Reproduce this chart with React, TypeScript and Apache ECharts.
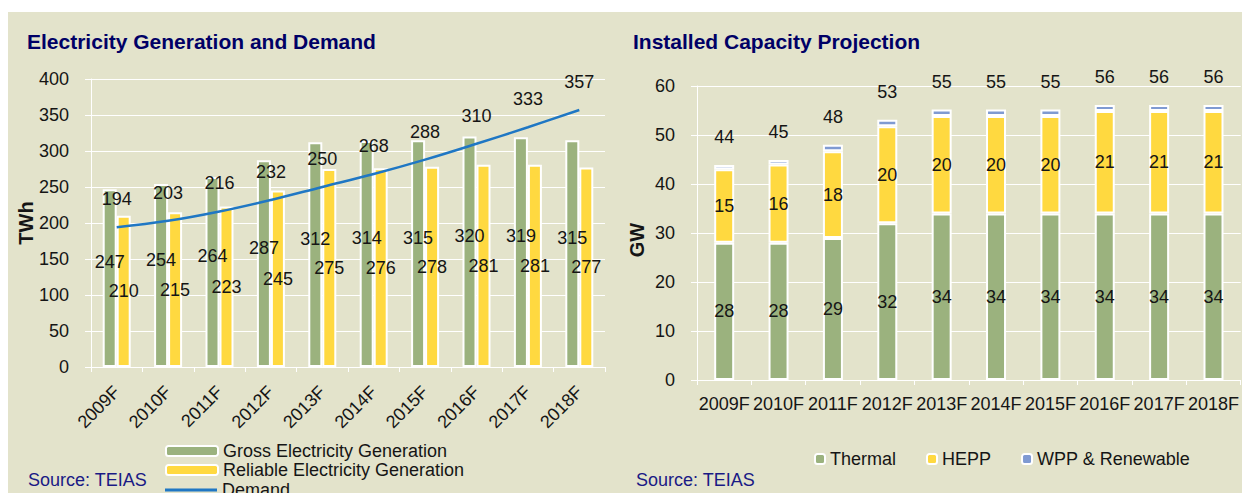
import { useEffect, useRef } from "react";
import * as echarts from "echarts";

const years = ["2009F", "2010F", "2011F", "2012F", "2013F", "2014F", "2015F", "2016F", "2017F", "2018F"];
const grossGeneration = [247, 254, 264, 287, 312, 314, 315, 320, 319, 315];
const reliableGeneration = [210, 215, 223, 245, 275, 276, 278, 281, 281, 277];
const demand = [194, 203, 216, 232, 250, 268, 288, 310, 333, 357];

const thermal = [28, 28, 29, 32, 34, 34, 34, 34, 34, 34];
const hepp = [15, 16, 17.7, 19.8, 19.9, 19.9, 19.9, 20.9, 20.9, 20.9];
const wppRenewable = [0.9, 0.9, 1.3, 1.3, 1.3, 1.3, 1.3, 1.2, 1.2, 1.2];

const FONT = "'Liberation Sans', Arial, sans-serif";
const BG = "#E3E3CB";
const GREEN = "#9BB27E";
const YELLOW = "#FFD940";
const BLUE_LINE = "#1F77C4";
const WPP_BLUE = "#7F9AD2";
const TITLE = "#000066";
const SOURCE = "#1A1A85";
const TXT = "#151515";

export default function App() {
  const ref = useRef<HTMLDivElement>(null);
  useEffect(() => {
    const chart = echarts.init(ref.current!, null, { renderer: "svg" });
    const totals = thermal.map((t, i) => Math.round(t + hepp[i] + wppRenewable[i]));
    const barBorder = { borderColor: "#FFFFFF", borderWidth: 2 };
    const numLabel = { color: TXT, fontSize: 18, fontFamily: FONT };
    const legendText = { color: TXT, fontSize: 18, fontFamily: FONT };
    const yAxisCommon = {
      type: "value" as const,
      axisLine: { show: true, lineStyle: { color: "#FFFFFF", width: 1 } },
      axisTick: { show: true, length: 6, lineStyle: { color: "#FFFFFF" } },
      splitLine: { show: true, lineStyle: { color: "#FFFFFF", width: 1 } },
      axisLabel: { color: TXT, fontSize: 18, fontFamily: FONT, margin: 22 },
    };
    chart.setOption({
      animation: false,
      textStyle: { fontFamily: FONT },
      graphic: [
        { type: "rect", z: -100, silent: true, shape: { x: 8, y: 12, width: 1234, height: 481 }, style: { fill: BG } },
        { type: "text", x: 27, y: 41, style: { text: "Electricity Generation and Demand", fill: TITLE, font: `bold 21px ${FONT}`, verticalAlign: "middle" } },
        { type: "text", x: 633, y: 41, style: { text: "Installed Capacity Projection", fill: TITLE, font: `bold 21px ${FONT}`, verticalAlign: "middle" } },
        { type: "text", x: 26, y: 223, rotation: Math.PI / 2, style: { text: "TWh", fill: TXT, font: `bold 20px ${FONT}`, align: "center", verticalAlign: "middle" } },
        { type: "text", x: 637, y: 240, rotation: Math.PI / 2, style: { text: "GW", fill: TXT, font: `bold 20px ${FONT}`, align: "center", verticalAlign: "middle" } },
        { type: "text", x: 28, y: 480, style: { text: "Source: TEIAS", fill: SOURCE, font: `18px ${FONT}`, verticalAlign: "middle" } },
        { type: "text", x: 636, y: 480, style: { text: "Source: TEIAS", fill: SOURCE, font: `18px ${FONT}`, verticalAlign: "middle" } },
      ],
      legend: [
        {
          orient: "vertical",
          left: 160,
          top: 437,
          itemWidth: 52,
          itemHeight: 10,
          itemGap: 1,
          textStyle: legendText,
          data: ["Gross Electricity Generation", "Reliable Electricity Generation"],
        },
        {
          orient: "vertical",
          left: 160,
          top: 476,
          itemWidth: 52,
          itemHeight: 10,
          textStyle: legendText,
          data: [
            {
              name: "Demand",
              icon: "path://M0,0 L52,0 L52,3 L0,3 Z",
              itemStyle: { color: BLUE_LINE, borderWidth: 0 },
            },
          ],
        },
        {
          orient: "horizontal",
          left: 809,
          top: 445,
          itemWidth: 10,
          itemHeight: 10,
          itemGap: 30,
          textStyle: legendText,
          data: ["Thermal", "HEPP", "WPP & Renewable"],
        },
      ],
      grid: [
        { left: 91, right: 637, top: 79, bottom: 126 },
        { left: 697, right: 1, top: 86, bottom: 113 },
      ],
      xAxis: [
        {
          type: "category",
          gridIndex: 0,
          data: years,
          axisLine: { lineStyle: { color: "#FFFFFF" } },
          axisTick: { show: true, length: 5, lineStyle: { color: "#FFFFFF" } },
          axisLabel: { color: TXT, fontSize: 18, fontFamily: FONT, rotate: 45, margin: 22, interval: 0 },
        },
        {
          type: "category",
          gridIndex: 1,
          data: years,
          axisLine: { lineStyle: { color: "#FFFFFF" } },
          axisTick: { show: true, length: 5, lineStyle: { color: "#FFFFFF" } },
          axisLabel: { color: TXT, fontSize: 18, fontFamily: FONT, margin: 15, interval: 0 },
        },
      ],
      yAxis: [
        { ...yAxisCommon, gridIndex: 0, min: 0, max: 400, interval: 50 },
        { ...yAxisCommon, gridIndex: 1, min: 0, max: 60, interval: 10 },
      ],
      series: [
        {
          name: "Gross Electricity Generation",
          type: "bar",
          xAxisIndex: 0,
          yAxisIndex: 0,
          data: grossGeneration,
          barWidth: 14,
          barGap: "0%",
          itemStyle: { color: GREEN, ...barBorder },
          label: { show: true, position: "inside", offset: [0, -16], ...numLabel },
        },
        {
          name: "Reliable Electricity Generation",
          type: "bar",
          xAxisIndex: 0,
          yAxisIndex: 0,
          data: reliableGeneration,
          barWidth: 14,
          barGap: "0%",
          itemStyle: { color: YELLOW, ...barBorder },
          label: { show: true, position: "inside", ...numLabel },
        },
        {
          name: "Demand",
          type: "line",
          xAxisIndex: 0,
          yAxisIndex: 0,
          data: demand,
          smooth: 0.4,
          symbol: "none",
          showSymbol: false,
          lineStyle: { color: BLUE_LINE, width: 2.5 },
          itemStyle: { color: BLUE_LINE },
          z: 5,
        },
        {
          name: "Demand labels",
          type: "scatter",
          xAxisIndex: 0,
          yAxisIndex: 0,
          data: demand,
          symbolSize: 0,
          silent: true,
          itemStyle: { color: "rgba(0,0,0,0)", opacity: 1 },
          label: { show: true, position: "top", distance: 19, opacity: 1, ...numLabel },
          z: 6,
        },
        {
          name: "Thermal",
          type: "bar",
          stack: "cap",
          xAxisIndex: 1,
          yAxisIndex: 1,
          data: thermal,
          barWidth: 20,
          itemStyle: { color: GREEN, ...barBorder },
          label: { show: true, position: "inside", ...numLabel },
        },
        {
          name: "HEPP",
          type: "bar",
          stack: "cap",
          xAxisIndex: 1,
          yAxisIndex: 1,
          data: hepp,
          barWidth: 20,
          itemStyle: { color: YELLOW, ...barBorder },
          label: { show: true, position: "inside", formatter: (p: any) => String(Math.round(p.value)), ...numLabel },
        },
        {
          name: "WPP & Renewable",
          type: "bar",
          stack: "cap",
          xAxisIndex: 1,
          yAxisIndex: 1,
          data: wppRenewable,
          barWidth: 20,
          itemStyle: { color: WPP_BLUE, ...barBorder },
          label: { show: true, position: "top", distance: 19, formatter: (p: any) => String(totals[p.dataIndex]), ...numLabel },
        },
      ],
    });
    return () => chart.dispose();
  }, []);
  return (
    <div
      ref={ref}
      style={{ position: "absolute", left: 0, top: 0, width: 1242, height: 493, background: "#FFFFFF" }}
    />
  );
}
